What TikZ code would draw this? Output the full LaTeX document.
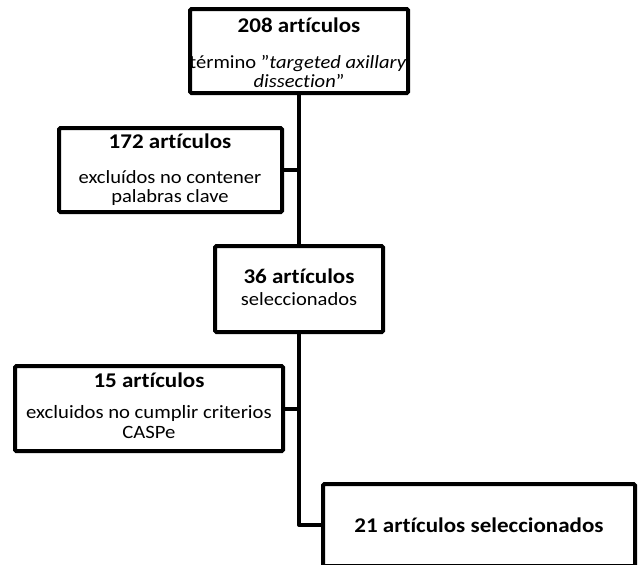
\documentclass[tikz,border=0pt]{standalone}
\usepackage{fontspec}
\setmainfont{Carlito}[FakeStretch=1.1,Ligatures=NoCommon]
\begin{document}
\begin{tikzpicture}[x=0.75pt,y=-0.75pt,
  box/.style={draw,line width=3pt,inner sep=0pt,rounded corners=1pt},
  conn/.style={line width=3pt,line join=round},
  ttl/.style={anchor=base,inner sep=0pt,font=\fontsize{15.7}{18}\selectfont\bfseries},
  body/.style={anchor=base,inner sep=0pt,font=\fontsize{14}{16}\selectfont},
  bodyb/.style={anchor=base,inner sep=0pt,font=\fontsize{14.1}{16}\selectfont}]
\useasboundingbox (0,0) rectangle (638,564);
% boxes
\node[box,minimum width=163.5pt,minimum height=63pt] (b1) at (299,51) {};
\node[box,minimum width=167.25pt,minimum height=63pt] (b2) at (170.5,170) {};
\node[box,minimum width=126pt,minimum height=64.5pt] (b3) at (299,289) {};
\node[box,minimum width=201pt,minimum height=63.75pt] (b4) at (149,408.5) {};
\node[box,minimum width=234pt,minimum height=61.5pt] (b5) at (479,525) {};
% texts
\node[ttl] (t1a) at (299,32) {208 artículos};
\node[body] (t1b) at (298,68) {término "\textit{targeted axillary}};
\node[body] (t1c) at (299,87) {\textit{dissection}"};
\node[ttl] (t2a) at (170,148) {172 artículos};
\node[body] (t2b) at (170,183) {excluídos no contener};
\node[body] (t2c) at (170,202) {palabras clave};
\node[ttl] (t3a) at (299,283) {36 artículos};
\node[body] (t3b) at (299,305) {seleccionados};
\node[ttl] (t4a) at (149,387) {15 artículos};
\node[bodyb] (t4b) at (149,418) {excluidos no cumplir criterios};
\node[bodyb] (t4c) at (149,438) {CASPe};
\node[ttl] (t5a) at (479,532) {21 artículos seleccionados};
% connectors
\draw[conn] (b1.south) -- (b3.north);
\draw[conn] (b2.east) -- (b2.east -| b1.south);
\draw[conn] (b3.south) |- (b5.west);
\draw[conn] (b4.east) -- (b4.east -| b3.south);
\end{tikzpicture}
\end{document}
